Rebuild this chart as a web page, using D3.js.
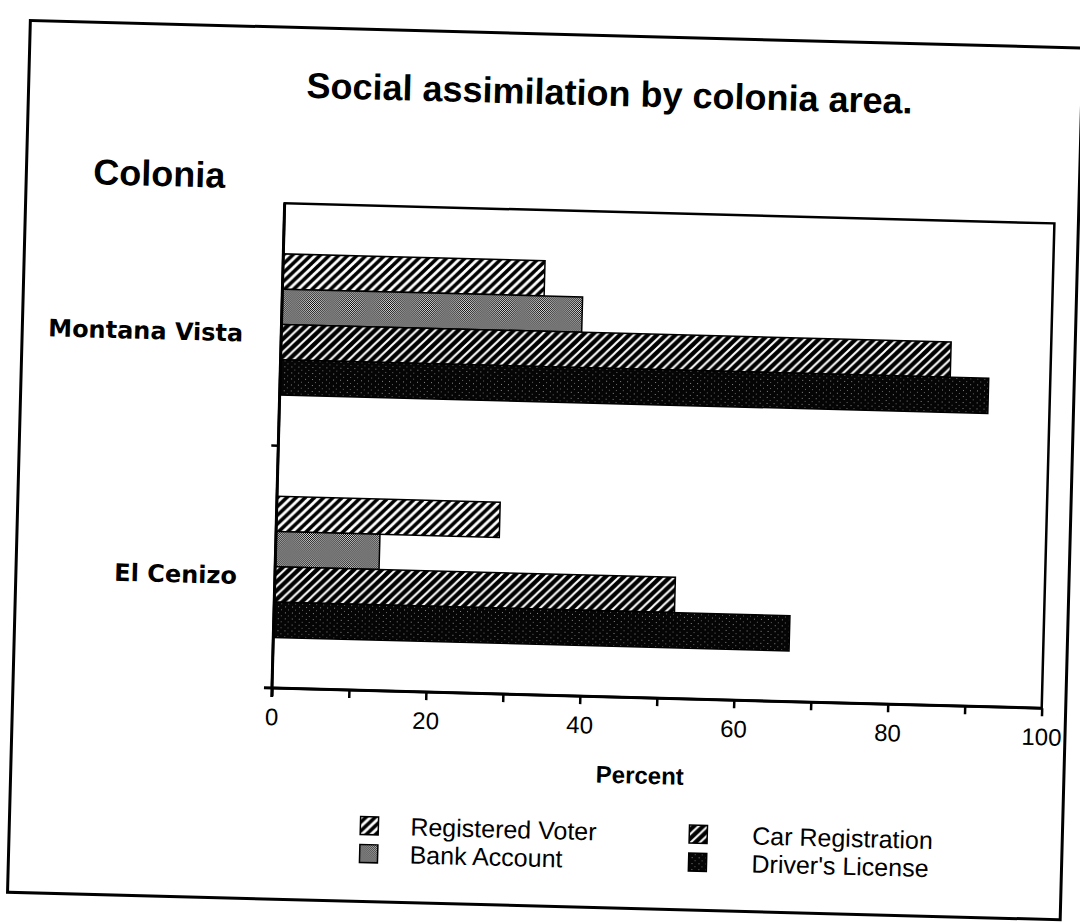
<!DOCTYPE html>
<html><head><meta charset="utf-8">
<script src="https://cdn.jsdelivr.net/npm/d3@7"></script>
<style>html,body{margin:0;padding:0;background:#fff;} svg{display:block}</style>
</head><body>
<svg id="chart" width="1080" height="923"></svg>
<script>
// ---- data ----
const categories = ["Montana Vista", "El Cenizo"];
const series = ["Registered Voter", "Bank Account", "Car Registration", "Driver's License"];
const registeredVoter = [34, 29];
const bankAccount = [39, 13.5];
const carRegistration = [87, 52];
const driversLicense = [92, 67];
const tickValues = [0, 10, 20, 30, 40, 50, 60, 70, 80, 90, 100];
const tickLabels = [0, 20, 40, 60, 80, 100];
const titleText = "Social assimilation by colonia area.";
const yTitle = "Colonia";
const xTitle = "Percent";
const legendColumns = [["Registered Voter", "Bank Account"], ["Car Registration", "Driver's License"]];

const values = {
  "Registered Voter": registeredVoter,
  "Bank Account": bankAccount,
  "Car Registration": carRegistration,
  "Driver's License": driversLicense
};
const patternId = {
  "Registered Voter": "pRV",
  "Bank Account": "pBA",
  "Car Registration": "pCR",
  "Driver's License": "pDL"
};

const svg = d3.select("#chart");
const defs = svg.append("defs");

// Registered voter: white with thick black diagonals
let p = defs.append("pattern").attr("id", "pRV").attr("patternUnits", "userSpaceOnUse")
  .attr("width", 9).attr("height", 9);
p.append("rect").attr("width", 9).attr("height", 9).attr("fill", "#fff");
p.append("path").attr("d", "M0,9 L9,0 M-1,1 L1,-1 M8,10 L10,8")
  .attr("stroke", "#000").attr("stroke-width", 3.6);

// Car registration: black with thin white diagonals
p = defs.append("pattern").attr("id", "pCR").attr("patternUnits", "userSpaceOnUse")
  .attr("width", 9).attr("height", 9);
p.append("rect").attr("width", 9).attr("height", 9).attr("fill", "#000");
p.append("path").attr("d", "M0,9 L9,0 M-1,1 L1,-1 M8,10 L10,8")
  .attr("stroke", "#fff").attr("stroke-width", 2);

// Bank account: dithered grey
p = defs.append("pattern").attr("id", "pBA").attr("patternUnits", "userSpaceOnUse")
  .attr("width", 2).attr("height", 2);
p.append("rect").attr("width", 2).attr("height", 2).attr("fill", "#e8e8e8");
p.append("rect").attr("x", 0).attr("y", 0).attr("width", 1).attr("height", 1).attr("fill", "#000");
p.append("rect").attr("x", 1).attr("y", 1).attr("width", 1).attr("height", 1).attr("fill", "#000");

// Driver's license: near black with specks
p = defs.append("pattern").attr("id", "pDL").attr("patternUnits", "userSpaceOnUse")
  .attr("width", 7).attr("height", 6);
p.append("rect").attr("width", 7).attr("height", 6).attr("fill", "#050505");
p.append("rect").attr("x", 2).attr("y", 1).attr("width", 1).attr("height", 1).attr("fill", "#888");
p.append("rect").attr("x", 5).attr("y", 4).attr("width", 1).attr("height", 1).attr("fill", "#666");

// whole page slightly rotated like the scan
const root = svg.append("g").attr("transform", "rotate(1.5 540 461)");

// outer border
root.append("rect").attr("x", 19).attr("y", 34).attr("width", 1053).attr("height", 872)
  .attr("fill", "none").attr("stroke", "#000").attr("stroke-width", 3);

const plot = {left: 278, right: 1048, top: 210, bottom: 695};

const x = d3.scaleLinear().domain([0, 100]).range([plot.left, plot.right]);
const y = d3.scaleBand().domain(categories).range([plot.top, plot.bottom])
  .paddingInner(0.418).paddingOuter(0.209);
const yi = d3.scaleBand().domain(series).range([0, y.bandwidth()]).padding(0);

// bars
categories.forEach((cat, ci) => {
  series.forEach(s => {
    root.append("rect")
      .attr("x", x(0))
      .attr("y", y(cat) + yi(s))
      .attr("width", x(values[s][ci]) - x(0))
      .attr("height", yi.bandwidth())
      .attr("fill", `url(#${patternId[s]})`)
      .attr("stroke", "#000").attr("stroke-width", 1.5);
  });
});

// plot frame
root.append("rect").attr("x", plot.left).attr("y", plot.top)
  .attr("width", plot.right - plot.left).attr("height", plot.bottom - plot.top)
  .attr("fill", "none").attr("stroke", "#000").attr("stroke-width", 2.5);

// left axis line (extends a bit below) and x-axis extending left
root.append("line").attr("x1", plot.left).attr("x2", plot.left)
  .attr("y1", plot.top).attr("y2", plot.bottom + 9)
  .attr("stroke", "#000").attr("stroke-width", 3);
root.append("line").attr("x1", plot.left - 8).attr("x2", plot.right)
  .attr("y1", plot.bottom).attr("y2", plot.bottom)
  .attr("stroke", "#000").attr("stroke-width", 3);

// tick between categories on the left axis
const midY = (y(categories[0]) + y.bandwidth() + y(categories[1])) / 2;
root.append("line").attr("x1", plot.left - 7).attr("x2", plot.left)
  .attr("y1", midY).attr("y2", midY).attr("stroke", "#000").attr("stroke-width", 2.5);

// x axis
const xAxis = d3.axisBottom(x).tickValues(tickValues).tickSize(8).tickPadding(12)
  .tickFormat(d => tickLabels.includes(d) ? d : "");
const gx = root.append("g").attr("transform", `translate(0,${plot.bottom})`).call(xAxis);
gx.select(".domain").remove();
gx.selectAll(".tick line").attr("stroke", "#000").attr("stroke-width", 2.5);
gx.selectAll(".tick text").attr("fill", "#000")
  .style("font-family", "'Liberation Sans', Arial, sans-serif").style("font-size", "24px");

// category labels
root.selectAll(".cat").data(categories).enter().append("text")
  .attr("class", "cat")
  .attr("x", 240)
  .attr("y", d => y(d) + y.bandwidth() / 2)
  .attr("dy", "0.75em")
  .attr("text-anchor", "end")
  .style("font-family", "'DejaVu Sans', sans-serif").style("font-weight", "bold").style("font-size", "24px")
  .text(d => d);

// title
root.append("text").attr("x", 600).attr("y", 104).attr("text-anchor", "middle")
  .style("font-family", "'Liberation Sans', Arial, sans-serif").style("font-weight", "bold").style("font-size", "36px")
  .text(titleText);

// y title
root.append("text").attr("x", 86).attr("y", 196)
  .style("font-family", "'Liberation Sans', Arial, sans-serif").style("font-weight", "bold").style("font-size", "36px")
  .text(yTitle);

// x title
root.append("text").attr("x", 648).attr("y", 781).attr("text-anchor", "middle")
  .style("font-family", "'Liberation Sans', Arial, sans-serif").style("font-weight", "bold").style("font-size", "24px")
  .text(xTitle);

// legend
const legX = [370, 699];
const legTextX = [420, 762];
const legRowY = [830, 858];
legendColumns.forEach((col, c) => {
  col.forEach((s, r) => {
    root.append("rect").attr("x", legX[c]).attr("y", legRowY[r] - 9)
      .attr("width", 18).attr("height", 18)
      .attr("fill", `url(#${patternId[s]})`).attr("stroke", "#000").attr("stroke-width", 1.5);
    root.append("text").attr("x", legTextX[c]).attr("y", legRowY[r]).attr("dy", "0.35em")
      .style("font-family", "'Liberation Sans', Arial, sans-serif").style("font-size", "25px")
      .text(s);
  });
});
</script>
</body></html>
